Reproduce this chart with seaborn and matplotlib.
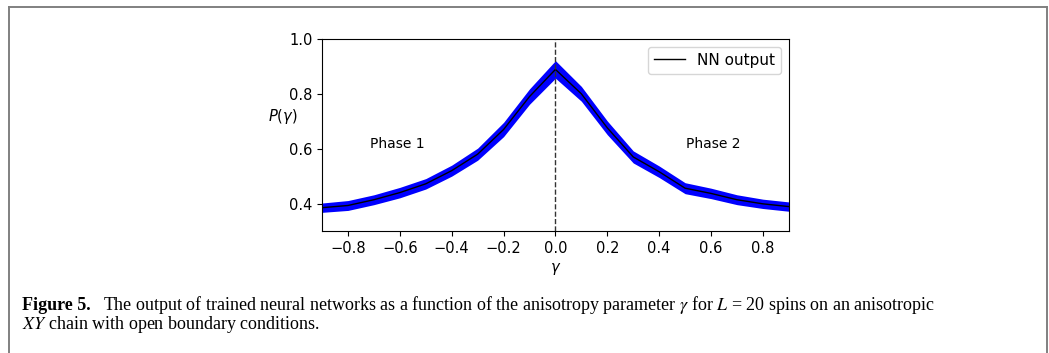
import numpy as np
import pandas as pd
import matplotlib
matplotlib.use("Agg")
import matplotlib.pyplot as plt
import seaborn as sns
from matplotlib.lines import Line2D

gamma = [-0.9, -0.8, -0.7, -0.6, -0.5, -0.4, -0.3, -0.2, -0.1, 0.0,
         0.1, 0.2, 0.3, 0.4, 0.5, 0.6, 0.7, 0.8, 0.9]
p_mean = [0.385, 0.393, 0.414, 0.440, 0.472, 0.520, 0.580, 0.670, 0.790, 0.889,
          0.800, 0.676, 0.570, 0.516, 0.456, 0.437, 0.414, 0.399, 0.389]
p_err = [0.017, 0.018, 0.018, 0.019, 0.019, 0.020, 0.022, 0.026, 0.028, 0.032,
         0.027, 0.025, 0.022, 0.021, 0.020, 0.019, 0.018, 0.017, 0.017]
xticks = [-0.8, -0.6, -0.4, -0.2, 0.0, 0.2, 0.4, 0.6, 0.8]
yticks = [0.4, 0.6, 0.8, 1.0]

df = pd.DataFrame({"gamma": gamma, "P": p_mean, "err": p_err})

plt.rcParams["font.family"] = ["DejaVu Sans"]
fig = plt.figure(figsize=(10.49, 3.53), dpi=100)
ax = fig.add_axes([0.307, 0.3456, 0.445, 0.544])

lo = df["P"] - df["err"]
hi = df["P"] + df["err"]
ax.fill_between(df["gamma"], lo, hi, color="#0000ff", linewidth=0)
sns.lineplot(data=df, x="gamma", y="P", ax=ax, color="black", linewidth=1.0,
             label="NN output")
ax.axvline(0.0, color="#333333", linestyle="--", linewidth=1.0)

ax.set_xlim(-0.9, 0.9)
ax.set_ylim(0.3, 1.0)
ax.set_xticks(xticks)
ax.set_yticks(yticks)
ax.tick_params(labelsize=10.5)
ax.set_xlabel(r"$\gamma$", fontsize=10.5)
ax.set_ylabel(r"$P(\gamma)$", fontsize=10.5, rotation=0)
ax.yaxis.set_label_coords(-0.085, 0.545)
ax.text(-0.61, 0.618, "Phase 1", fontsize=10, ha="center", va="center")
ax.text(0.61, 0.618, "Phase 2", fontsize=10, ha="center", va="center")
ax.legend(loc="upper right", fontsize=11, frameon=True)

# frame
W, H = 1049, 353
c = "#808080"
lw = 1.4
fig.add_artist(Line2D([9 / W, 9 / W], [0, 1 - 7 / H], transform=fig.transFigure, color=c, lw=lw))
fig.add_artist(Line2D([9 / W, 1046.5 / W], [1 - 7 / H, 1 - 7 / H], transform=fig.transFigure, color=c, lw=lw))
fig.add_artist(Line2D([1046.5 / W, 1046.5 / W], [0, 1 - 7 / H], transform=fig.transFigure, color=c, lw=lw))

# caption
cap_fs = 13.0
serif = ["Liberation Serif", "DejaVu Serif"]
t1 = fig.text(22 / W, 1 - 310 / H, "Figure 5.", fontsize=cap_fs, fontweight="bold",
              family=serif, va="baseline")
r = fig.canvas.get_renderer()
bb = t1.get_window_extent(renderer=r)
x2 = (bb.x1 + 12) / W
fig.text(x2, 1 - 310 / H,
         r"The output of trained neural networks as a function of the anisotropy parameter $\gamma$ for $L$ = 20 spins on an anisotropic",
         fontsize=cap_fs, family=serif, va="baseline", math_fontfamily="stix")
fig.text(22 / W, 1 - 329 / H, r"$XY$ chain with open boundary conditions.",
         fontsize=cap_fs, family=serif, va="baseline", math_fontfamily="stix")

fig.savefig("out.png", dpi=100)
